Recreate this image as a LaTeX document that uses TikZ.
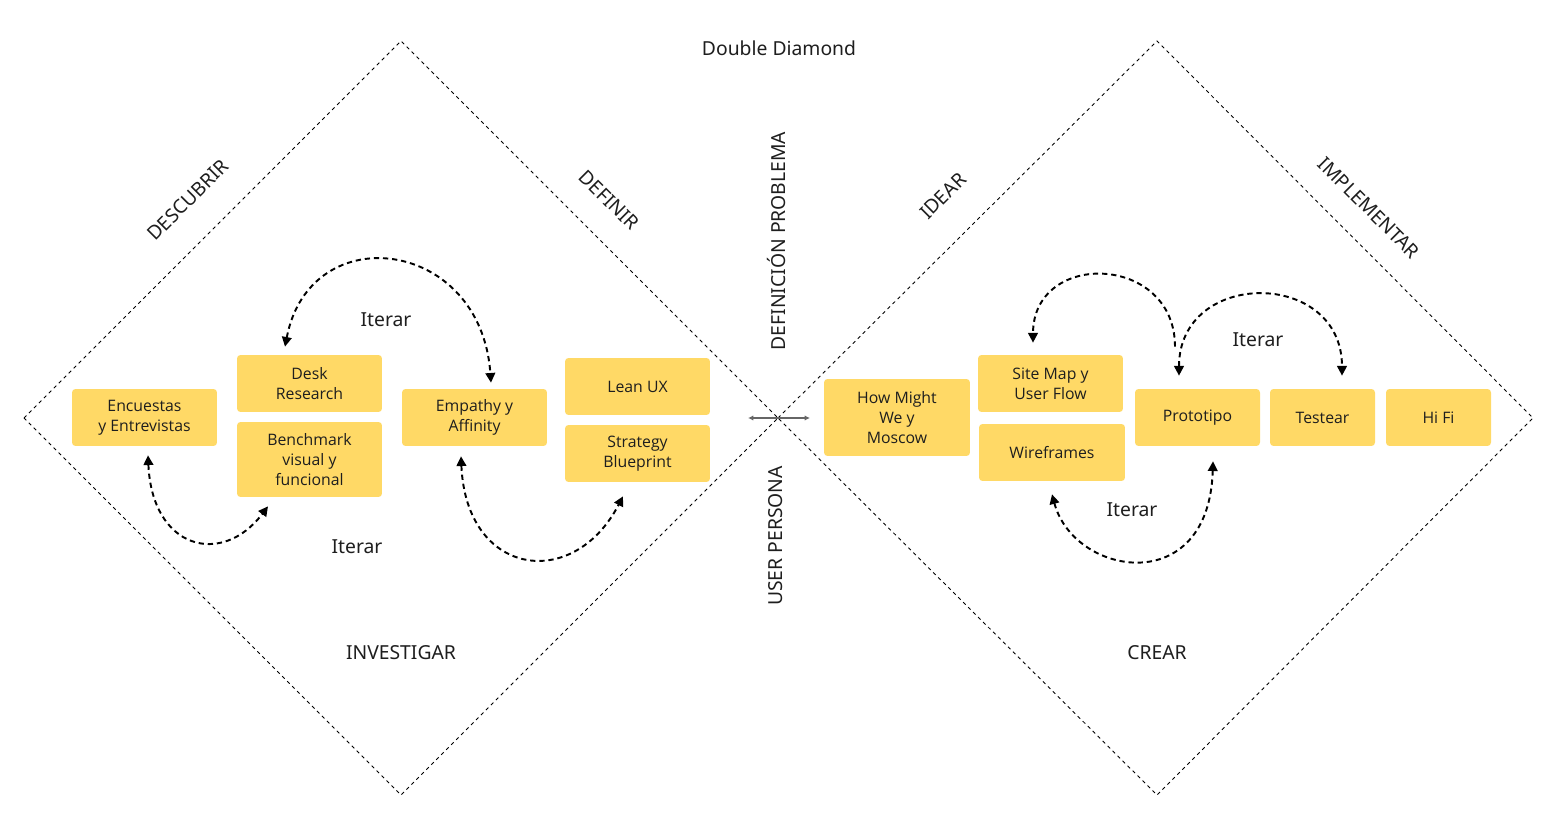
\documentclass[tikz,border=0pt]{standalone}
\usepackage{fontspec}
\setmainfont{Noto Sans}
\newfontfamily\cardfont{Open Sans}
\usepackage{tikz}
\usetikzlibrary{arrows.meta,calc}

\definecolor{cardyellow}{HTML}{FFD966}
\definecolor{inkdark}{HTML}{1E1E1E}

\tikzset{
  card/.style={fill=cardyellow, rounded corners=2pt, align=center, inner sep=0pt,
    minimum width=2.9cm, minimum height=1.14cm, text=inkdark,
    font=\cardfont\fontsize{9}{11.3}\selectfont},
  lbl/.style={text=inkdark, font=\fontsize{11}{13}\selectfont},
  iter/.style={line width=1.1pt, dash pattern=on 3pt off 2.2pt,
    {Triangle[length=5.5pt,width=5.5pt]}-{Triangle[length=5.5pt,width=5.5pt]}},
  diamond line/.style={line width=0.5pt, dash pattern=on 2pt off 2pt}
}

\begin{document}
\begin{tikzpicture}[x=0.02cm, y=0.02cm]
        \useasboundingbox (0,0) rectangle (1562,829);
        % diamonds
        \draw[diamond line] (24,411) -- (401,788) -- (778,411) -- (401,34) -- cycle;
        \draw[diamond line] (778,411) -- (1157,788) -- (1533,411) -- (1157,34) -- cycle;
        \node[lbl] (title) at (779,781) {Double Diamond};
        \node[lbl, rotate=45] (descubrir) at (188,629) {DESCUBRIR};
        \node[lbl, rotate=-45] (definir) at (609,629) {DEFINIR};
        \node[lbl, rotate=90] (problema) at (776,588) {DEFINICIÓN PROBLEMA};
        \node[lbl, rotate=90] (persona) at (776,293) {USER PERSONA};
        \node[lbl, rotate=45] (idear) at (943,633) {IDEAR};
        \node[lbl, rotate=-45] (implementar) at (1369,621) {IMPLEMENTAR};
        \node[lbl] (investigar) at (401,176) {INVESTIGAR};
        \node[lbl] (crear) at (1157,176) {CREAR};
        % first diamond
        \node[card] (enc) at (144.5,411.5) {Encuestas\\y Entrevistas};
        \node[card] (desk) at (309.5,445.5) {Desk\\Research};
        \node[card, minimum height=1.5cm] (bench) at (309.5,369.5) {Benchmark\\visual y\\funcional};
        \node[card] (empathy) at (474.5,411.5) {Empathy y\\Affinity};
        \node[card] (lean) at (637.5,442.5) {Lean UX};
        \node[card] (strategy) at (637.5,375.5) {Strategy\\Blueprint};
        \node[lbl] (iterA) at (386,509) {Iterar};
        \node[lbl] (iterB) at (357,282) {Iterar};
        \draw[iter] ($(enc.south)+(3.5,-9)$) .. controls +(4,-94) and +(-46,-61) .. ($(bench.south)+(-41.5,-9)$);
        \draw[iter] ($(desk.north)+(-24.5,8)$) .. controls +(25,130) and +(-10,145) .. ($(empathy.north)+(16.5,6)$);
        \draw[iter] ($(empathy.south)+(-13.5,-10)$) .. controls +(5,-120) and +(-50,-96) .. ($(strategy.south)+(-14.5,-14)$);
        % middle
        \coordinate (midL) at (748,411);
        \coordinate (midR) at (810,411);
        \draw[line width=0.8pt, gray!80!black, {Latex[length=3pt,width=3pt]}-{Latex[length=3pt,width=3pt]}] (midL) -- (midR);
        % second diamond
        \node[card, minimum width=2.92cm, minimum height=1.54cm] (hmw) at (897,411.5) {How Might\\We y\\Moscow};
        \node[card] (sitemap) at (1050.5,445.5) {Site Map y\\User Flow};
        \node[card, minimum width=2.92cm] (wire) at (1052,376.5) {Wireframes};
        \node[card, minimum width=2.5cm] (proto) at (1197.5,411.5) {Prototipo};
        \node[card, minimum width=2.1cm] (test) at (1322.5,411.5) {Testear};
        \node[card, minimum width=2.1cm] (hifi) at (1438.5,411.5) {Hi Fi};
        \node[lbl] (iterC) at (1132,319) {Iterar};
        \node[lbl] (iterD) at (1258,489) {Iterar};
        \draw[iter, {-Triangle[length=5.5pt,width=5.5pt]}] ($(proto.north)+(-22.5,42)$) .. controls +(0,93) and +(0,93) .. ($(sitemap.north)+(-17.5,12)$);
        \draw[iter] ($(proto.north)+(-18.5,13)$) .. controls +(0,107) and +(0,107) .. ($(test.north)+(19.5,13)$);
        \draw[iter] ($(wire.south)+(0,-13)$) .. controls +(22,-82) and +(-4,-138) .. ($(proto.south)+(15.5,-15)$);
\end{tikzpicture}
\end{document}
